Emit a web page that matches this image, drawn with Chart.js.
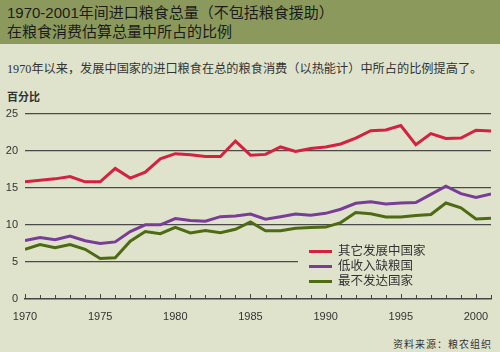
<!DOCTYPE html>
<html>
<head>
<meta charset="utf-8">
<script src="https://cdn.jsdelivr.net/npm/chart.js@4"></script>
<style>
  body { margin: 0; width: 500px; height: 352px; background: #dfe3cc; position: relative; overflow: hidden;
         font-family: "Liberation Sans", "Noto Sans CJK SC", sans-serif; color: #222; }
  #head { position: absolute; left: 0; top: 0; width: 500px; height: 44px; background: #8b9a5c; }
  #head div { position: absolute; left: 7px; font-size: 15px; line-height: 18px; color: #1b1b1b; }
  #sub { position: absolute; left: 7px; top: 59px; font-size: 12.2px; font-family: "Liberation Serif", "Noto Sans CJK SC", serif; color: #333; }
  #unit { position: absolute; left: 7px; top: 88px; font-size: 11px; font-weight: bold; color: #333; }
  #chartBox { position: absolute; left: 0; top: 100px; width: 500px; height: 225px; }
  #legend { position: absolute; left: 298px; top: 239px; width: 193px; height: 48px; background: #dfe3cc; }
  .item { position: absolute; left: 11px; height: 15px; font-size: 12.5px; font-family: "Liberation Serif", "Noto Sans CJK SC", serif; color: #333; }
  .item span { display: inline-block; width: 23px; height: 3px; vertical-align: middle; margin-right: 6px; position: relative; top: -1px; }
  #src { position: absolute; right: 8px; top: 336px; font-size: 10px; font-family: "Noto Sans CJK SC", serif; color: #333; letter-spacing: 1px; }
</style>
</head>
<body>
<div id="head">
  <div style="top:4px">1970-2001年间进口粮食总量（不包括粮食援助）</div>
  <div style="top:23px">在粮食消费估算总量中所占的比例</div>
</div>
<div id="sub">1970年以来，发展中国家的进口粮食在总的粮食消费（以热能计）中所占的比例提高了。</div>
<div id="unit">百分比</div>
<div id="chartBox"><canvas id="c"></canvas></div>
<div id="legend"></div>
<div id="src">资料来源：粮农组织</div>
<script>
const years = [1970,1971,1972,1973,1974,1975,1976,1977,1978,1979,1980,1981,1982,1983,1984,1985,
               1986,1987,1988,1989,1990,1991,1992,1993,1994,1995,1996,1997,1998,1999,2000,2001];
const otherDeveloping = [15.8,16.0,16.2,16.5,15.8,15.8,17.6,16.3,17.1,18.9,19.6,19.45,19.2,19.2,21.3,19.4,
                         19.5,20.5,19.9,20.3,20.5,20.9,21.7,22.7,22.8,23.4,20.8,22.3,21.65,21.7,22.75,22.65];
const lowIncomeDeficit = [7.9,8.3,8.0,8.5,7.85,7.5,7.7,9.1,10.0,10.0,10.85,10.6,10.5,11.1,11.2,11.45,
                          10.75,11.1,11.45,11.3,11.55,12.1,12.9,13.1,12.8,12.95,13.0,14.1,15.2,14.2,13.7,14.15];
const leastDeveloped = [6.7,7.35,6.9,7.35,6.7,5.45,5.55,7.8,9.1,8.8,9.65,8.9,9.25,8.95,9.4,10.4,
                        9.2,9.2,9.55,9.65,9.7,10.3,11.65,11.5,11.05,11.05,11.25,11.4,12.95,12.3,10.8,10.9];
const seriesNames = ["其它发展中国家", "低收入缺粮国", "最不发达国家"];
const seriesColors = ["#d6203f", "#7a3d97", "#4e6a12"];
const yTicks = [0, 5, 10, 15, 20, 25];

const seriesValues = [otherDeveloping, lowIncomeDeficit, leastDeveloped];
const datasets = seriesValues.map((vals, i) => ({
  label: seriesNames[i],
  data: vals.map((v, j) => ({ x: years[j], y: v })),
  borderColor: seriesColors[i],
  borderWidth: 3,
  pointRadius: 0,
  tension: 0,
  fill: false
}));

// legend as overlay, built from the series
const leg = document.getElementById("legend");
seriesNames.forEach((n, i) => {
  const d = document.createElement("div");
  d.className = "item";
  d.style.top = (1 + i * 15) + "px";
  d.innerHTML = '<span style="background:' + seriesColors[i] + '"></span>' + n;
  leg.appendChild(d);
});

// small ticks pointing up from the x axis, one per year
const upTicks = {
  id: "upTicks",
  afterDatasetsDraw(chart) {
    const x = chart.scales.x, ctx = chart.ctx, b = chart.chartArea.bottom;
    ctx.save();
    ctx.strokeStyle = "#444";
    ctx.lineWidth = 1;
    years.forEach(yr => {
      const px = Math.round(x.getPixelForValue(yr)) + 0.5;
      ctx.beginPath();
      ctx.moveTo(px, b);
      ctx.lineTo(px, b - (yr % 5 === 0 ? 5 : 4));
      ctx.stroke();
    });
    ctx.restore();
  }
};

new Chart(document.getElementById("c"), {
  type: "line",
  data: { datasets },
  plugins: [upTicks],
  options: {
    responsive: true,
    maintainAspectRatio: false,
    animation: false,
    layout: { padding: { top: 10, right: 9, left: 0, bottom: 0 } },
    plugins: { legend: { display: false }, tooltip: { enabled: false } },
    scales: {
      x: {
        type: "linear",
        min: 1970, max: 2001,
        afterFit: s => { s.height = 26; },
        grid: { display: false },
        border: { display: true, color: "#444", width: 1.5 },
        ticks: {
          stepSize: 5, includeBounds: false, maxRotation: 0, padding: 3,
          color: "#333", font: { family: "Liberation Sans", size: 11 },
          callback: v => String(v)
        }
      },
      y: {
        min: 0, max: 25,
        afterFit: s => { s.width = 25; },
        afterBuildTicks: s => { s.ticks = yTicks.map(v => ({ value: v })); },
        grid: { color: ctx => ctx.tick && ctx.tick.value === 0 ? "rgba(0,0,0,0)" : "#4a4a4a", lineWidth: 1.2, drawTicks: false },
        border: { display: false },
        ticks: { padding: 7, color: "#333", font: { family: "Liberation Sans", size: 11 } }
      }
    }
  }
});
</script>
</body>
</html>
